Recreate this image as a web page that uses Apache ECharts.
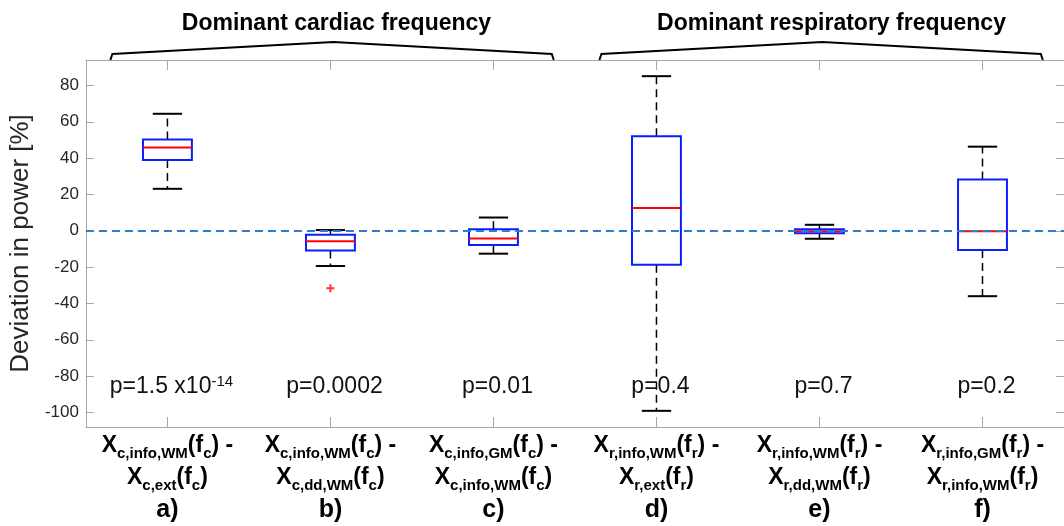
<!DOCTYPE html>
<html>
<head>
<meta charset="utf-8">
<script src="https://cdn.jsdelivr.net/npm/echarts@6/dist/echarts.min.js"></script>
<style>
html,body{margin:0;padding:0;background:#fff;}
#c{width:1064px;height:526px;}
</style>
</head>
<body>
<div id="c"></div>
<script>
// ---------------- data ----------------
const positions = [1, 2, 3, 4, 5, 6];
const panelLetters = ['a)', 'b)', 'c)', 'd)', 'e)', 'f)'];
const minuendSym = ['c,info,WM', 'c,info,WM', 'c,info,GM', 'r,info,WM', 'r,info,WM', 'r,info,GM'];
const subtrahendSym = ['c,ext', 'c,dd,WM', 'c,info,WM', 'r,ext', 'r,dd,WM', 'r,info,WM'];
const freqSym = ['c', 'c', 'c', 'r', 'r', 'r'];

const lowerWhisker = [23.1, -19.4, -12.6, -99.1, -4.4, -36.0];
const q1           = [39.0, -10.8, -7.8, -18.7, -1.4, -10.6];
const median       = [45.8, -5.8, -4.2, 12.6, -0.2, -0.2];
const q3           = [50.3, -2.2, 0.9, 52.1, 0.8, 28.2];
const upperWhisker = [64.4, 0.4, 7.3, 85.1, 3.3, 46.3];
const outliers     = [[2, -31.6]];

const pMantissa = ['1.5 x10', '0.0002', '0.01', '0.4', '0.7', '0.2'];
const pExponent = ['-14', '', '', '', '', ''];

const tickValues = [-100, -80, -60, -40, -20, 0, 20, 40, 60, 80];
const groupTitles = ['Dominant cardiac frequency', 'Dominant respiratory frequency'];
const groupFirst = [1, 4];
const groupLast = [3, 6];

// ---------------- settings ----------------
const yMin = -108, yMax = 94;
const xMin = 0.5, xMax = 6.5;
const pLabelLevel = -86;
const FONT = '"Liberation Sans", Arial, Helvetica, sans-serif';
const AXIS_COLOR = '#a6a6a6';
const TEXT_COLOR = '#262626';

const boxData = positions.map((p, i) => [p, lowerWhisker[i], q1[i], median[i], q3[i], upperWhisker[i]]);
const pData = positions.map((p, i) => [p, pLabelLevel]);
const groupData = groupFirst.map((f, i) => [f, groupLast[i]]);

function renderBox(params, api) {
  const x = api.value(0);
  const band = api.size([1, 0])[0];
  const hb = band * 0.15, hc = band * 0.09;
  const c = v => api.coord([x, v]);
  const cx = c(api.value(1))[0];
  const yLW = c(api.value(1))[1];
  const yQ1 = c(api.value(2))[1];
  const yMed = c(api.value(3))[1];
  const yQ3 = c(api.value(4))[1];
  const yUW = c(api.value(5))[1];
  const dash = { stroke: '#000', lineWidth: 1.5, lineDash: [8, 5] };
  const solid = { stroke: '#000', lineWidth: 2 };
  return {
    type: 'group',
    children: [
      { type: 'line', shape: { x1: cx, y1: yQ3, x2: cx, y2: yUW }, style: dash },
      { type: 'line', shape: { x1: cx, y1: yQ1, x2: cx, y2: yLW }, style: dash },
      { type: 'line', shape: { x1: cx - hc, y1: yUW, x2: cx + hc, y2: yUW }, style: solid },
      { type: 'line', shape: { x1: cx - hc, y1: yLW, x2: cx + hc, y2: yLW }, style: solid },
      { type: 'rect', shape: { x: cx - hb, y: yQ3, width: 2 * hb, height: yQ1 - yQ3 },
        style: { fill: 'none', stroke: '#0a1eff', lineWidth: 2 } },
      { type: 'line', shape: { x1: cx - hb, y1: yMed, x2: cx + hb, y2: yMed },
        style: { stroke: '#ff0000', lineWidth: 2 } }
    ]
  };
}

function renderP(params, api) {
  const i = params.dataIndex;
  const pt = api.coord([api.value(0), api.value(1)]);
  let txt = '{m|p=' + pMantissa[i] + '}';
  if (pExponent[i]) txt += '{e|' + pExponent[i] + '}';
  return {
    type: 'text',
    x: pt[0] + 4, y: pt[1],
    style: {
      text: txt,
      align: 'center', verticalAlign: 'middle',
      rich: {
        m: { fontSize: 23, fontFamily: FONT, fill: '#111', color: '#111', lineHeight: 26 },
        e: { fontSize: 15, fontFamily: FONT, fill: '#111', color: '#111', verticalAlign: 'top', lineHeight: 15 }
      }
    }
  };
}

function renderBrace(params, api) {
  const i = params.dataIndex;
  const first = api.value(0), last = api.value(1);
  const mid = (first + last) / 2;
  const top = params.coordSys.y;
  const L = api.coord([first - 0.35, 0])[0];
  const R = api.coord([last + 0.37, 0])[0];
  const M = api.coord([mid, 0])[0];
  return {
    type: 'group',
    children: [
      { type: 'polyline',
        shape: { points: [[L, top], [L + 2, top - 6], [M + 3, top - 18], [R - 2, top - 6], [R, top]] },
        style: { stroke: '#000', lineWidth: 2, fill: null } },
      { type: 'text', x: M + 6 + 6 * i, y: top - 36,
        style: { text: groupTitles[i], align: 'center', verticalAlign: 'middle',
          fontSize: 23, fontWeight: 'bold', fontFamily: FONT, fill: '#000' } }
    ]
  };
}

function xLabel(value) {
  const i = positions.indexOf(value);
  if (i < 0) return '';
  return '{X|X}{s|' + minuendSym[i] + '}{X|(f}{s|' + freqSym[i] + '}{X|) -}\n' +
         '{X|X}{s|' + subtrahendSym[i] + '}{X|(f}{s|' + freqSym[i] + '}{X|)}\n' +
         '{L|' + panelLetters[i] + '}';
}

const chart = echarts.init(document.getElementById('c'));
chart.setOption({
  animation: false,
  backgroundColor: '#fff',
  grid: { left: 85, right: -6, top: 60, bottom: 97 },
  xAxis: [{
    type: 'value', min: xMin, max: xMax, position: 'bottom',
    axisLine: { show: true, onZero: false, lineStyle: { color: AXIS_COLOR, width: 1 } },
    axisTick: { show: true, inside: true, length: 10, customValues: positions, lineStyle: { color: AXIS_COLOR } },
    axisLabel: {
      customValues: positions, margin: 3, formatter: xLabel, lineHeight: 32,
      rich: {
        X: { fontSize: 23, fontWeight: 'bold', fontFamily: FONT, color: '#000', lineHeight: 32 },
        s: { fontSize: 15, fontWeight: 'bold', fontFamily: FONT, color: '#000', verticalAlign: 'bottom', height: 17, lineHeight: 20 },
        L: { fontSize: 25, fontWeight: 'bold', fontFamily: FONT, color: '#000', lineHeight: 32 }
      }
    },
    splitLine: { show: false }
  }, {
    type: 'value', min: xMin, max: xMax, position: 'top',
    axisLine: { show: true, onZero: false, lineStyle: { color: AXIS_COLOR, width: 1 } },
    axisTick: { show: true, inside: true, length: 10, customValues: positions, lineStyle: { color: AXIS_COLOR } },
    axisLabel: { show: false },
    splitLine: { show: false }
  }],
  yAxis: [{
    type: 'value', min: yMin, max: yMax, position: 'left',
    name: 'Deviation in power [%]', nameLocation: 'middle', nameGap: 47, nameRotate: 90,
    nameTextStyle: { fontSize: 26, color: TEXT_COLOR, fontFamily: FONT },
    axisLine: { show: true, onZero: false, lineStyle: { color: AXIS_COLOR, width: 1 } },
    axisTick: { show: true, inside: true, length: 8, customValues: tickValues, lineStyle: { color: AXIS_COLOR } },
    axisLabel: { customValues: tickValues, fontSize: 17, color: TEXT_COLOR, margin: 7, fontFamily: FONT },
    splitLine: { show: false }
  }, {
    type: 'value', min: yMin, max: yMax, position: 'right',
    axisLine: { show: true, onZero: false, lineStyle: { color: AXIS_COLOR, width: 1 } },
    axisTick: { show: true, inside: true, length: 8, customValues: tickValues, lineStyle: { color: AXIS_COLOR } },
    axisLabel: { show: false },
    splitLine: { show: false }
  }],
  series: [{
    type: 'custom', name: 'boxes', xAxisIndex: 0, yAxisIndex: 0, z: 2,
    renderItem: renderBox, data: boxData, silent: true
  }, {
    type: 'scatter', name: 'outliers', xAxisIndex: 0, yAxisIndex: 0, z: 3,
    data: outliers, symbol: 'path://M3,0H5V3H8V5H5V8H3V5H0V3H3Z', symbolSize: 8,
    itemStyle: { color: '#ff0000' }, silent: true,
    markLine: {
      silent: true, symbol: ['none', 'none'], label: { show: false },
      lineStyle: { color: '#2a7dd1', type: [8, 5], width: 2 },
      data: [{ yAxis: 0 }], z: 4
    }
  }, {
    type: 'custom', name: 'pvalues', xAxisIndex: 0, yAxisIndex: 0, z: 5,
    renderItem: renderP, data: pData, silent: true
  }, {
    type: 'custom', name: 'braces', xAxisIndex: 0, yAxisIndex: 0, z: 5, clip: false,
    renderItem: renderBrace, data: groupData, silent: true
  }]
});
</script>
</body>
</html>
